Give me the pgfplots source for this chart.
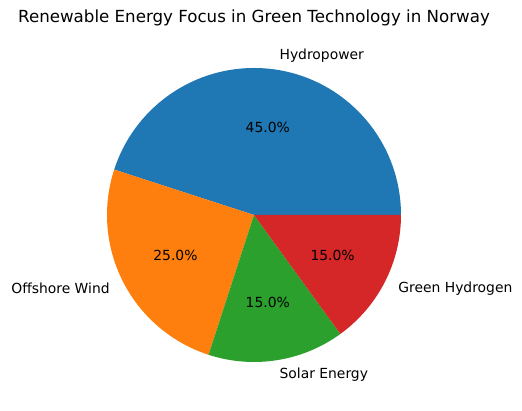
\documentclass[border=0pt]{standalone}
\usepackage{pgfplots}
\pgfplotsset{compat=1.18}
\usepackage{fontspec}
\setmainfont{DejaVu Sans}
\definecolor{tabblue}{HTML}{1F77B4}
\definecolor{taborange}{HTML}{FF7F0E}
\definecolor{tabgreen}{HTML}{2CA02C}
\definecolor{tabred}{HTML}{D62728}
% shares (percent)
\def\vA{45}\def\vB{25}\def\vC{15}\def\vD{15}
\begin{document}
\begin{tikzpicture}
\pgfmathsetmacro\aA{3.6*\vA}
\pgfmathsetmacro\aB{\aA+3.6*\vB}
\pgfmathsetmacro\aC{\aB+3.6*\vC}
\pgfmathsetmacro\aD{\aC+3.6*\vD}
\begin{axis}[
  width=375.84pt, height=295.92pt, scale only axis,
  xmin=-254, xmax=268, ymin=-196, ymax=215,
  hide axis, clip=false,
]
\path (axis cs:-254,-196) rectangle (axis cs:268,215);
\def\R{147}
\def\Rpt{105.84pt}
\fill[tabblue] (axis cs:0,0) -- (axis cs:{\R*cos(0)},{\R*sin(0)}) arc[start angle=0, end angle=\aA, radius=\Rpt] -- cycle;
\fill[taborange] (axis cs:0,0) -- (axis cs:{\R*cos(\aA)},{\R*sin(\aA)}) arc[start angle=\aA, end angle=\aB, radius=\Rpt] -- cycle;
\fill[tabgreen] (axis cs:0,0) -- (axis cs:{\R*cos(\aB)},{\R*sin(\aB)}) arc[start angle=\aB, end angle=\aC, radius=\Rpt] -- cycle;
\fill[tabred] (axis cs:0,0) -- (axis cs:{\R*cos(\aC)},{\R*sin(\aC)}) arc[start angle=\aC, end angle=\aD, radius=\Rpt] -- cycle;
% labels
\pgfmathsetmacro\mA{\aA/2}
\pgfmathsetmacro\mB{(\aA+\aB)/2}
\pgfmathsetmacro\mC{(\aB+\aC)/2}
\pgfmathsetmacro\mD{(\aC+\aD)/2}
\node[anchor=west, font=\fontsize{10}{12}\selectfont, inner sep=0pt] at (axis cs:{1.1*\R*cos(\mA)},{1.1*\R*sin(\mA)}) {Hydropower};
\node[anchor=east, font=\fontsize{10}{12}\selectfont, inner sep=0pt] at (axis cs:{1.1*\R*cos(\mB)},{1.1*\R*sin(\mB)}) {Offshore Wind};
\node[anchor=west, font=\fontsize{10}{12}\selectfont, inner sep=0pt] at (axis cs:{1.1*\R*cos(\mC)},{1.1*\R*sin(\mC)}) {Solar Energy};
\node[anchor=west, font=\fontsize{10}{12}\selectfont, inner sep=0pt] at (axis cs:{1.1*\R*cos(\mD)},{1.1*\R*sin(\mD)}) {Green Hydrogen};
\node[font=\fontsize{10}{12}\selectfont, inner sep=0pt] at (axis cs:{0.6*\R*cos(\mA)},{0.6*\R*sin(\mA)}) {45.0\%};
\node[font=\fontsize{10}{12}\selectfont, inner sep=0pt] at (axis cs:{0.6*\R*cos(\mB)},{0.6*\R*sin(\mB)}) {25.0\%};
\node[font=\fontsize{10}{12}\selectfont, inner sep=0pt] at (axis cs:{0.6*\R*cos(\mC)},{0.6*\R*sin(\mC)}) {15.0\%};
\node[font=\fontsize{10}{12}\selectfont, inner sep=0pt] at (axis cs:{0.6*\R*cos(\mD)},{0.6*\R*sin(\mD)}) {15.0\%};
% title
\node[font=\fontsize{12}{14}\selectfont, inner sep=0pt] at (axis cs:0,197) {Renewable Energy Focus in Green Technology in Norway};
\end{axis}
\end{tikzpicture}
\end{document}
